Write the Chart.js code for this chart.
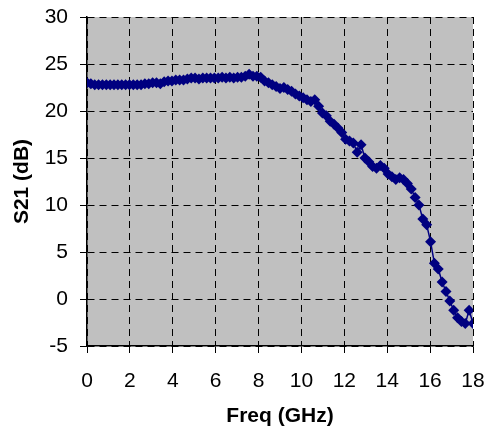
<!DOCTYPE html>
<html>
<head>
<meta charset="utf-8">
<script src="https://cdn.jsdelivr.net/npm/chart.js@4"></script>
<style>
  html, body { margin: 0; padding: 0; background: #fff; }
  #wrap { width: 485px; height: 432px; position: relative; }
</style>
</head>
<body>
<div id="wrap"><canvas id="s21Chart"></canvas></div>
<script>
// measured S21 vs frequency
const freqGHz = [
  0.00, 0.18, 0.36, 0.54, 0.72, 0.90, 1.08, 1.26, 1.44, 1.62,
  1.80, 1.98, 2.16, 2.34, 2.52, 2.70, 2.88, 3.06, 3.24, 3.42,
  3.60, 3.78, 3.96, 4.14, 4.32, 4.50, 4.68, 4.86, 5.04, 5.22,
  5.40, 5.58, 5.76, 5.94, 6.12, 6.30, 6.48, 6.66, 6.84, 7.02,
  7.20, 7.38, 7.56, 7.74, 7.92, 8.10, 8.28, 8.46, 8.64, 8.82,
  9.00, 9.18, 9.36, 9.54, 9.72, 9.90, 10.08, 10.26, 10.44, 10.62,
  10.80, 10.98, 11.16, 11.34, 11.52, 11.70, 11.88, 12.06, 12.24, 12.42,
  12.60, 12.78, 12.96, 13.14, 13.32, 13.50, 13.68, 13.86, 14.04, 14.22,
  14.40, 14.58, 14.76, 14.94, 15.12, 15.30, 15.48, 15.66, 15.84, 16.02,
  16.20, 16.38, 16.56, 16.74, 16.92, 17.10, 17.28, 17.46, 17.64, 17.82,
  18.00
];
const s21dB = [
  23.0, 22.9, 22.8, 22.8, 22.8, 22.8, 22.8, 22.8, 22.8, 22.8,
  22.8, 22.8, 22.8, 22.8, 22.8, 22.9, 22.9, 23.0, 23.0, 22.9,
  23.1, 23.2, 23.2, 23.3, 23.3, 23.3, 23.4, 23.5, 23.5, 23.4,
  23.5, 23.5, 23.5, 23.5, 23.5, 23.6, 23.5, 23.6, 23.5, 23.6,
  23.6, 23.7, 23.9, 23.7, 23.7, 23.6, 23.2, 23.0, 22.8, 22.6,
  22.4, 22.5, 22.3, 22.1, 21.8, 21.6, 21.4, 21.2, 21.0, 21.2,
  20.5, 19.8, 19.5, 18.9, 18.6, 18.2, 17.7, 17.0, 16.8, 16.6,
  15.6, 16.4, 15.0, 14.6, 14.1, 13.9, 14.2, 13.9, 13.3, 13.0,
  12.7, 12.9, 12.7, 12.3, 11.7, 10.8, 10.0, 8.5, 7.9, 6.1,
  3.8, 3.2, 1.8, 0.8, -0.2, -1.2, -2.0, -2.4, -2.6, -1.2,
  -2.6
];
const xTicks = [0, 2, 4, 6, 8, 10, 12, 14, 16, 18];
const yTicks = [-5, 0, 5, 10, 15, 20, 25, 30];

const points = freqGHz.map((f, i) => ({ x: f, y: s21dB[i] }));

// grey plot area like the original spreadsheet chart
const plotBg = {
  id: 'plotBg',
  beforeDraw(chart) {
    const a = chart.chartArea;
    const ctx = chart.ctx;
    ctx.save();
    ctx.fillStyle = '#c0c0c0';
    ctx.fillRect(a.left, a.top, a.right - a.left, a.bottom - a.top);
    ctx.restore();
  }
};

const tickFont = { family: 'Arial, "Liberation Sans", sans-serif', size: 21 };
const titleFont = { family: 'Arial, "Liberation Sans", sans-serif', size: 21, weight: 'bold' };

new Chart(document.getElementById('s21Chart').getContext('2d'), {
  type: 'line',
  data: {
    datasets: [{
      label: 'S21',
      data: points,
      borderColor: '#000080',
      backgroundColor: '#000080',
      borderWidth: 1.5,
      pointStyle: 'rectRot',
      pointRadius: 5.5,
      pointBorderWidth: 0,
      tension: 0,
      fill: false
    }]
  },
  options: {
    responsive: true,
    maintainAspectRatio: false,
    animation: false,
    layout: { padding: { left: 0, right: 12, top: 17, bottom: 0 } },
    plugins: { legend: { display: false }, tooltip: { enabled: false } },
    scales: {
      x: {
        type: 'linear',
        min: 0,
        max: 18,
        afterBuildTicks: (s) => { s.ticks = xTicks.map(v => ({ value: v })); },
        afterFit: (s) => { s.height = 86; s.paddingLeft = 0; s.paddingRight = 0; },
        ticks: { font: tickFont, color: '#000', padding: 16, maxRotation: 0 },
        grid: { color: '#000', lineWidth: 1, tickLength: 7, tickColor: '#000' },
        border: { color: '#000', width: 1.5, dash: [7, 5] },
        title: { display: true, text: 'Freq (GHz)', font: titleFont, color: '#000', padding: { top: 0, bottom: 3 } }
      },
      y: {
        min: -5,
        max: 30,
        afterBuildTicks: (s) => { s.ticks = yTicks.map(v => ({ value: v })); },
        afterFit: (s) => { s.width = 87; s.paddingTop = 0; s.paddingBottom = 0; },
        ticks: { font: tickFont, color: '#000', padding: 12 },
        grid: { color: '#000', lineWidth: 1, tickLength: 7, tickColor: '#000' },
        border: { color: '#000', width: 1.5, dash: [7, 5] },
        title: { display: true, text: 'S21 (dB)', font: titleFont, color: '#000', padding: { top: 10, bottom: 0 } }
      }
    }
  },
  plugins: [plotBg]
});
</script>
</body>
</html>
